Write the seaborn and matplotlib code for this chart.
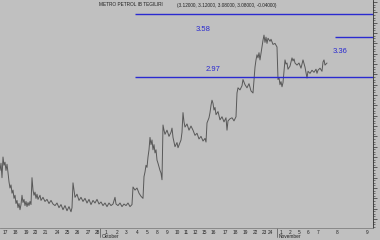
import matplotlib
matplotlib.use("Agg")
import matplotlib.pyplot as plt
import seaborn as sns
import pandas as pd
from matplotlib.ticker import MultipleLocator, NullFormatter

# ---------------- data ----------------
title_name = "METRO PETROL IB TEGILIRI"
title_ohlc = "(3.12000, 3.12000, 3.08000, 3.08000, -0.04000)"

# time in trading-day units (intraday fractions), price
times = [
    0.0, 0.1, 0.2, 0.3, 0.4, 0.5, 0.6, 0.7, 0.8, 0.9,
    1.0, 1.1, 1.2, 1.3, 1.4, 1.5, 1.6, 1.7, 1.8, 1.9,
    2.0, 2.1, 2.2, 2.3, 2.4, 2.5, 2.6, 2.7, 2.8, 2.9,
    3.0, 3.1, 3.2, 3.3, 3.4, 3.5, 3.6, 3.7, 3.8, 4.0,
    4.1, 4.3, 4.5, 4.7, 4.9, 5.1, 5.3, 5.5, 5.7, 5.9,
    6.1, 6.3, 6.5, 6.7, 6.9, 7.1, 7.2, 7.3, 7.4, 7.5,
    7.7, 7.9, 8.1, 8.3, 8.5, 8.7, 8.9, 9.1, 9.3, 9.5,
    9.7, 9.9, 10.1, 10.3, 10.5, 10.7, 10.9, 11.1, 11.3, 11.5,
    11.6, 11.8, 12.0, 12.2, 12.4, 12.6, 12.8, 13.0, 13.2, 13.3,
    13.5, 13.7, 13.9, 14.1, 14.3, 14.4, 14.5, 14.6, 14.7, 14.8,
    14.9, 15.0, 15.1, 15.2, 15.3, 15.4, 15.5, 15.6, 15.7, 15.8,
    16.0, 16.1, 16.2, 16.3, 16.4, 16.5, 16.7, 16.9, 17.1, 17.2,
    17.3, 17.5, 17.7, 17.8, 18.0, 18.1, 18.2, 18.3, 18.4, 18.5,
    18.7, 18.9, 19.1, 19.3, 19.5, 19.7, 19.9, 20.1, 20.3, 20.5,
    20.6, 20.7, 20.9, 21.0, 21.1, 21.2, 21.3, 21.4, 21.5, 21.6,
    21.8, 22.0, 22.2, 22.4, 22.6, 22.7, 22.8, 23.0, 23.2, 23.4,
    23.6, 23.7, 23.8, 24.0, 24.2, 24.3, 24.5, 24.7, 24.9, 25.1,
    25.3, 25.5, 25.6, 25.7, 25.8, 25.9, 26.0, 26.2, 26.3, 26.4,
    26.5, 26.6, 26.7, 26.8, 27.0, 27.1, 27.3, 27.5, 27.7, 27.8,
    27.9, 28.0, 28.1, 28.2, 28.3, 28.5, 28.6, 28.7, 28.8, 29.0,
    29.2, 29.3, 29.4, 29.5, 29.7, 29.9, 30.1, 30.3, 30.5, 30.6,
    30.7, 30.8, 31.0, 31.2, 31.4, 31.6, 31.7, 31.8, 32.0, 32.2,
    32.3, 32.4, 32.5, 32.7,
]
prices = [
    2.07, 2.14, 2.00, 2.20, 2.12, 2.15, 2.07, 2.13, 2.05, 1.96,
    1.90, 1.93, 1.85, 1.88, 1.80, 1.83, 1.75, 1.78, 1.71, 1.75,
    1.69, 1.74, 1.83, 1.76, 1.79, 1.73, 1.77, 1.72, 1.76, 1.73,
    1.77, 1.74, 2.00, 1.88, 1.83, 1.86, 1.80, 1.84, 1.79, 1.83,
    1.78, 1.81, 1.77, 1.79, 1.75, 1.78, 1.745, 1.73, 1.755, 1.71,
    1.74, 1.69, 1.73, 1.68, 1.72, 1.67, 1.71, 1.95, 1.88, 1.81,
    1.84, 1.78, 1.81, 1.77, 1.80, 1.755, 1.79, 1.74, 1.78, 1.755,
    1.79, 1.745, 1.765, 1.73, 1.755, 1.72, 1.755, 1.73, 1.745, 1.81,
    1.745, 1.73, 1.755, 1.72, 1.745, 1.73, 1.755, 1.72, 1.74, 1.91,
    1.88, 1.90, 1.85, 1.82, 1.80, 2.01, 2.055, 2.12, 2.10, 2.20,
    2.27, 2.39, 2.32, 2.365, 2.27, 2.32, 2.24, 2.27, 2.17, 2.14,
    2.07, 2.045, 1.98, 2.51, 2.46, 2.42, 2.46, 2.40, 2.44, 2.48,
    2.39, 2.30, 2.34, 2.29, 2.34, 2.365, 2.44, 2.63, 2.54, 2.49,
    2.52, 2.46, 2.50, 2.46, 2.41, 2.43, 2.375, 2.40, 2.355, 2.38,
    2.345, 2.53, 2.58, 2.63, 2.70, 2.75, 2.72, 2.655, 2.68, 2.61,
    2.64, 2.56, 2.59, 2.54, 2.58, 2.46, 2.55, 2.57, 2.58, 2.55,
    2.59, 2.82, 2.87, 2.85, 2.89, 2.95, 2.90, 2.87, 2.91, 2.84,
    2.82, 3.07, 3.14, 3.19, 3.16, 3.21, 3.14, 3.265, 3.33, 3.38,
    3.31, 3.36, 3.30, 3.35, 3.32, 3.34, 3.29, 3.30, 3.265, 2.95,
    2.97, 2.90, 2.93, 2.88, 2.92, 3.14, 3.10, 3.11, 3.05, 3.08,
    3.16, 3.13, 3.15, 3.11, 3.09, 3.11, 3.06, 3.14, 3.07, 3.02,
    2.965, 3.03, 3.01, 3.04, 3.02, 3.05, 3.01, 3.04, 3.06, 3.03,
    3.12, 3.14, 3.09, 3.11,
]

levels = [3.58, 2.97, 3.36]
level_labels = ["3.58", "2.97", "3.36"]

tick_pos = [0.5, 1.5, 2.6, 3.5, 4.5, 5.7, 6.7, 7.7, 8.8, 9.7,
            10.6, 11.7, 12.6, 13.7, 14.7, 15.7, 16.7, 17.7, 18.6, 19.5,
            20.4, 21.3, 22.5, 23.5, 24.5, 25.5, 26.4, 27.0,
            28.1, 29.0, 29.9, 30.8, 31.8, 33.7, 36.7]
tick_labels = ["17", "18", "19", "20", "21", "24", "25", "26", "27", "28",
               "1", "2", "3", "4", "5", "8", "9", "10", "11", "12",
               "15", "16", "17", "18", "19", "22", "23", "24",
               "1", "2", "5", "6", "7", "8", "9"]
month_names = ["Oktober", "November"]
month_pos = [10.0, 27.7]

# ---------------- style ----------------
bg = "#c0c0c0"
line_col = "#585858"
blue = "#2a2ad0"

sns.set_theme(style="white")
plt.rcParams["font.family"] = ["Liberation Sans", "DejaVu Sans"]

fig = plt.figure(figsize=(3.8, 2.4), dpi=100, facecolor=bg)
ax = fig.add_axes([0.0, 12 / 240, 373 / 380, 228 / 240])
ax.set_facecolor(bg)

df = pd.DataFrame({"t": times, "price": prices})
sns.lineplot(data=df, x="t", y="price", ax=ax, color=line_col,
             lw=0.7, estimator=None, sort=False)

ax.set_xlim(0, 37.3)
ax.set_ylim(1.513, 3.72)

# horizontal levels
starts = [13.5, 13.5, 33.5]
label_x = [20.3, 21.3, 34.0]
label_dy = [-11, 6, -10]
for lv, lab, st, lx, dy in zip(levels, level_labels, starts, label_x, label_dy):
    ax.hlines(lv, st, 37.3, color=blue, lw=1.0)
    ax.annotate(lab, (lx, lv), xytext=(0, dy), textcoords="offset points",
                ha="center", va="center", color=blue, fontsize=5.5)

# spines / axes
for s in ["top", "left"]:
    ax.spines[s].set_visible(False)
ax.spines["right"].set_color("#303030")
ax.spines["right"].set_linewidth(0.6)
ax.spines["bottom"].set_color("#808080")
ax.spines["bottom"].set_linewidth(0.6)

ax.yaxis.tick_right()
ax.yaxis.set_major_locator(MultipleLocator(0.1))
ax.yaxis.set_minor_locator(MultipleLocator(0.025))
ax.yaxis.set_major_formatter(NullFormatter())
ax.tick_params(axis="y", which="major", direction="out", length=3,
               width=0.5, color="#303030", right=True, left=False)
ax.tick_params(axis="y", which="minor", direction="out", length=1.5,
               width=0.4, color="#303030", right=True, left=False)

ax.set_xticks(tick_pos)
ax.set_xticklabels(tick_labels)
ax.tick_params(axis="x", which="major", direction="in", length=0, pad=1.2,
               labelsize=3.4, labelcolor="#202020")
ax.set_xlabel("")
ax.set_ylabel("")

for name, pos in zip(month_names, month_pos):
    ax.axvline(pos, ymin=-0.04, ymax=0, color="#505050", lw=0.5, clip_on=False)
    ax.annotate(name, (pos, 1.513), xytext=(1, -6.3), textcoords="offset points",
                ha="left", va="center", fontsize=3.4, color="#202020",
                annotation_clip=False)

fig.text(99 / 380, 1 - 5 / 240, title_name, fontsize=3.4, color="#202020",
         ha="left", va="center")
fig.text(177 / 380, 1 - 5 / 240, title_ohlc, fontsize=3.4, color="#202020",
         ha="left", va="center")

fig.savefig("out.png", dpi=100, facecolor=bg)
